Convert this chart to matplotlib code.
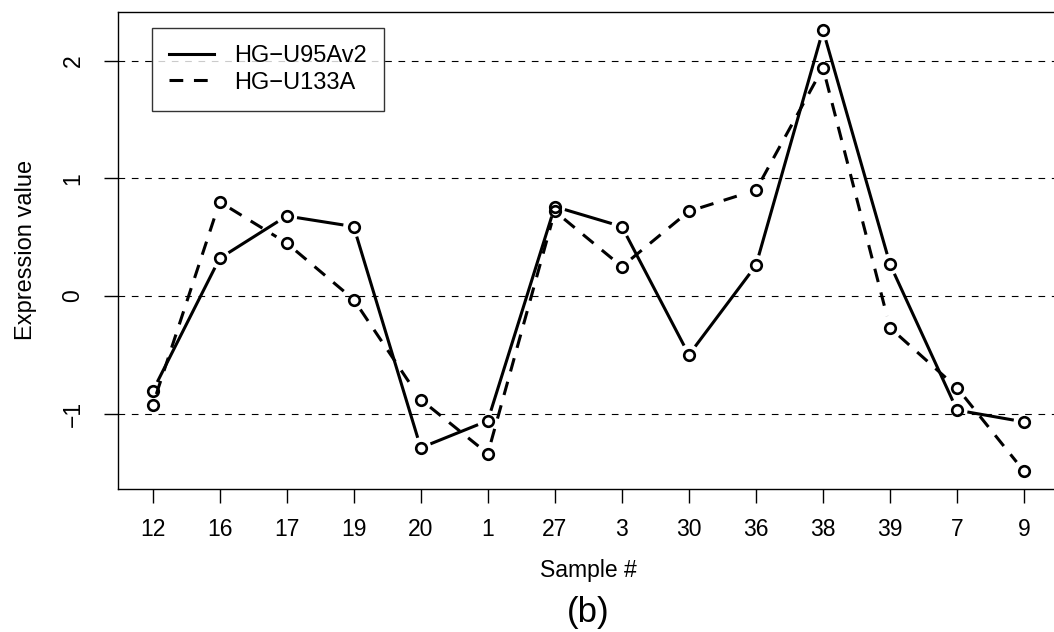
import numpy as np
import matplotlib.pyplot as plt

plt.rcParams['font.family'] = ['Liberation Sans', 'DejaVu Sans']

# sample order along the x axis
samples = ['12', '16', '17', '19', '20', '1', '27', '3', '30', '36', '38', '39', '7', '9']
# expression values
u95av2 = [-0.81, 0.32, 0.68, 0.59, -1.29, -1.06, 0.76, 0.59, -0.50, 0.26, 2.26, 0.27, -0.97, -1.07]
u133a = [-0.93, 0.80, 0.45, -0.03, -0.88, -1.34, 0.72, 0.25, 0.72, 0.90, 1.94, -0.27, -0.78, -1.49]
yticks = [-1, 0, 1, 2]

fig = plt.figure(figsize=(10.54, 6.32), dpi=100)
ax = fig.add_axes([0.1117, 0.2263, 0.893, 0.754])

x = np.arange(1, len(samples) + 1)
lo = min(min(u95av2), min(u133a))
hi = max(max(u95av2), max(u133a))
ax.set_xlim(1 - 0.04 * 13, 14 + 0.04 * 13)
ax.set_ylim(lo - 0.04 * (hi - lo), hi + 0.04 * (hi - lo))

for v in yticks:
    ax.axhline(v, color='black', lw=0.8, dashes=(6, 6), zorder=1)


def gapped(xs, ys, gap, **kw):
    # R type="b": segments stop short of the points
    pts = ax.transData.transform(np.column_stack([xs, ys]))
    inv = ax.transData.inverted()
    for p, q in zip(pts[:-1], pts[1:]):
        d = q - p
        L = np.hypot(d[0], d[1])
        if L <= 2 * gap:
            continue
        u = d / L
        a, b = inv.transform([p + u * gap, q - u * gap])
        ax.plot([a[0], b[0]], [a[1], b[1]], color='black', lw=2.2, zorder=3, **kw)


gapped(x, u95av2, 12)
gapped(x, u133a, 12, dashes=(4.5, 3.5))
for s in (u95av2, u133a):
    ax.plot(x, s, ls='none', marker='o', ms=7.6, mew=1.9, mfc='none', mec='black', zorder=4)

# legend entries
ax.plot([], [], color='black', lw=2.2, label='HG\u2212U95Av2')
ax.plot([], [], color='black', lw=2.2, dashes=(4.5, 3.5), label='HG\u2212U133A')
leg = ax.legend(loc='upper left', bbox_to_anchor=(0.0364, 0.9675), borderaxespad=0,
                fontsize=17, frameon=True, fancybox=False, edgecolor='black',
                handlelength=1.9, handletextpad=0.85, labelspacing=0.2, borderpad=0.72)
leg.get_frame().set_linewidth(1.0)

ax.set_xticks(x)
ax.set_xticklabels(samples)
ax.set_yticks(yticks)
ax.set_yticklabels([str(v).replace('-', '\u2212') for v in yticks], rotation=90, va='center')
ax.tick_params(axis='x', length=10, width=1, labelsize=16.5, pad=11)
ax.tick_params(axis='y', length=10, width=1, labelsize=16.5, pad=14)
for sp in ax.spines.values():
    sp.set_linewidth(1.0)

fig.text(588 / 1054, 1 - 577 / 632, 'Sample #', ha='center', va='baseline', fontsize=16.5)
fig.text(26 / 1054, 1 - 250 / 632, 'Expression value', ha='center', va='center',
         rotation=90, fontsize=17)
fig.text(588 / 1054, 1 - 622 / 632, '(b)', ha='center', va='baseline', fontsize=25)

fig.savefig('out.png', dpi=100)
